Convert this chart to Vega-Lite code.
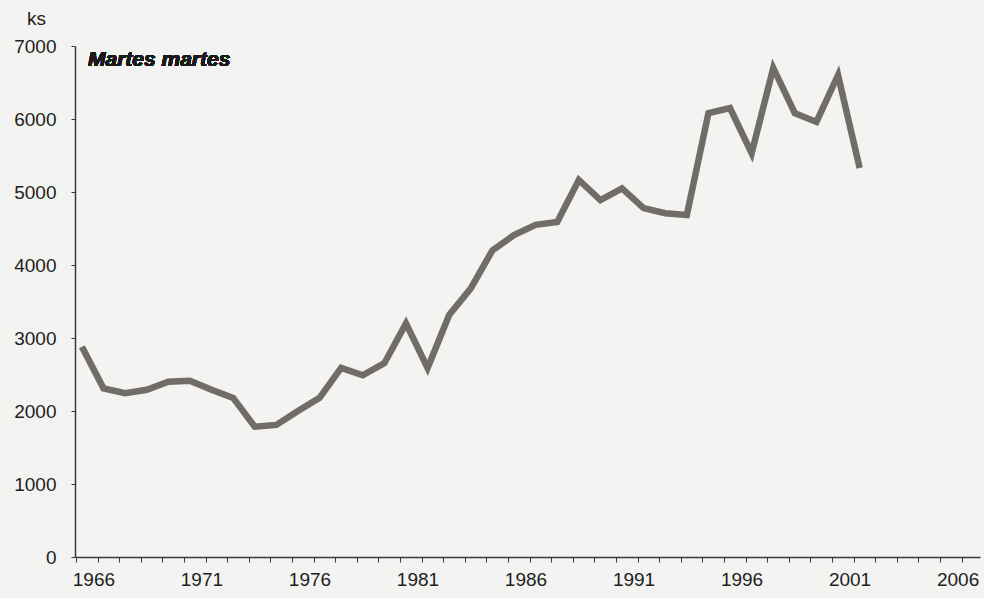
{
  "$schema": "https://vega.github.io/schema/vega-lite/v6.json",
  "width": 905,
  "height": 511,
  "autosize": {"type": "none"},
  "padding": {"left": 75, "top": 46, "right": 4, "bottom": 41},
  "background": "#f3f3f1",
  "config": {
    "view": {"stroke": null},
    "font": "Liberation Sans"
  },
  "data": {
    "values": [
      {"year": 1966, "ks": 2880},
      {"year": 1967, "ks": 2310},
      {"year": 1968, "ks": 2245},
      {"year": 1969, "ks": 2290},
      {"year": 1970, "ks": 2400},
      {"year": 1971, "ks": 2415},
      {"year": 1972, "ks": 2290},
      {"year": 1973, "ks": 2180},
      {"year": 1974, "ks": 1785},
      {"year": 1975, "ks": 1810},
      {"year": 1976, "ks": 2000},
      {"year": 1977, "ks": 2180},
      {"year": 1978, "ks": 2590},
      {"year": 1979, "ks": 2490},
      {"year": 1980, "ks": 2655},
      {"year": 1981, "ks": 3200},
      {"year": 1982, "ks": 2590},
      {"year": 1983, "ks": 3315},
      {"year": 1984, "ks": 3680},
      {"year": 1985, "ks": 4200},
      {"year": 1986, "ks": 4410},
      {"year": 1987, "ks": 4550},
      {"year": 1988, "ks": 4590},
      {"year": 1989, "ks": 5165},
      {"year": 1990, "ks": 4890},
      {"year": 1991, "ks": 5050},
      {"year": 1992, "ks": 4780},
      {"year": 1993, "ks": 4710},
      {"year": 1994, "ks": 4685},
      {"year": 1995, "ks": 6080},
      {"year": 1996, "ks": 6150},
      {"year": 1997, "ks": 5530},
      {"year": 1998, "ks": 6700},
      {"year": 1999, "ks": 6080},
      {"year": 2000, "ks": 5960},
      {"year": 2001, "ks": 6600},
      {"year": 2002, "ks": 5330}
    ]
  },
  "layer": [
    {
      "mark": {"type": "line", "color": "#716c67", "strokeWidth": 6.5, "strokeJoin": "miter"},
      "encoding": {
        "x": {
          "field": "year",
          "type": "quantitative",
          "scale": {"domain": [1965.68, 2007.57], "nice": false, "zero": false},
          "axis": {
            "title": null,
            "values": [1966,1967,1968,1969,1970,1971,1972,1973,1974,1975,1976,1977,1978,1979,1980,1981,1982,1983,1984,1985,1986,1987,1988,1989,1990,1991,1992,1993,1994,1995,1996,1997,1998,1999,2000,2001,2002,2003,2004,2005,2006,2007],
            "tickCount": 100,
            "labelExpr": "datum.value % 5 == 1 ? datum.value : ''",
            "labelOverlap": false,
            "labelSeparation": -200,
            "labelFlush": false,
            "grid": false,
            "domainColor": "#3a3a3a",
            "domainWidth": 1.5,
            "tickColor": "#3a3a3a",
            "tickSize": 5,
            "tickOffset": -6,
            "labelOffset": 17.5,
            "labelPadding": 8,
            "labelFont": "Liberation Sans",
            "labelFontSize": 19,
            "labelColor": "#1e1e1e"
          }
        },
        "y": {
          "field": "ks",
          "type": "quantitative",
          "scale": {"domain": [0, 7000], "nice": false},
          "axis": {
            "title": "ks",
            "titleAngle": 0,
            "titleX": -39,
            "titleY": -28,
            "titleAlign": "center",
            "titleBaseline": "middle",
            "titleFont": "Liberation Sans",
            "titleFontSize": 19,
            "titleFontWeight": "normal",
            "titleColor": "#1e1e1e",
            "values": [0, 1000, 2000, 3000, 4000, 5000, 6000, 7000],
            "format": "d",
            "grid": false,
            "domainColor": "#3a3a3a",
            "domainWidth": 1.5,
            "tickColor": "#3a3a3a",
            "tickSize": 4,
            "labelPadding": 15,
            "labelFont": "Liberation Sans",
            "labelFontSize": 19,
            "labelColor": "#1e1e1e"
          }
        }
      }
    },
    {
      "mark": {"type": "text", "text": "Martes martes", "align": "left", "baseline": "middle", "font": "Liberation Sans", "fontSize": 21, "fontWeight": "bold", "fontStyle": "italic", "color": "#1a1a1a"},
      "encoding": {
        "x": {"datum": 1966.28, "type": "quantitative"},
        "y": {"datum": 6808, "type": "quantitative"}
      }
    }
  ]
}
